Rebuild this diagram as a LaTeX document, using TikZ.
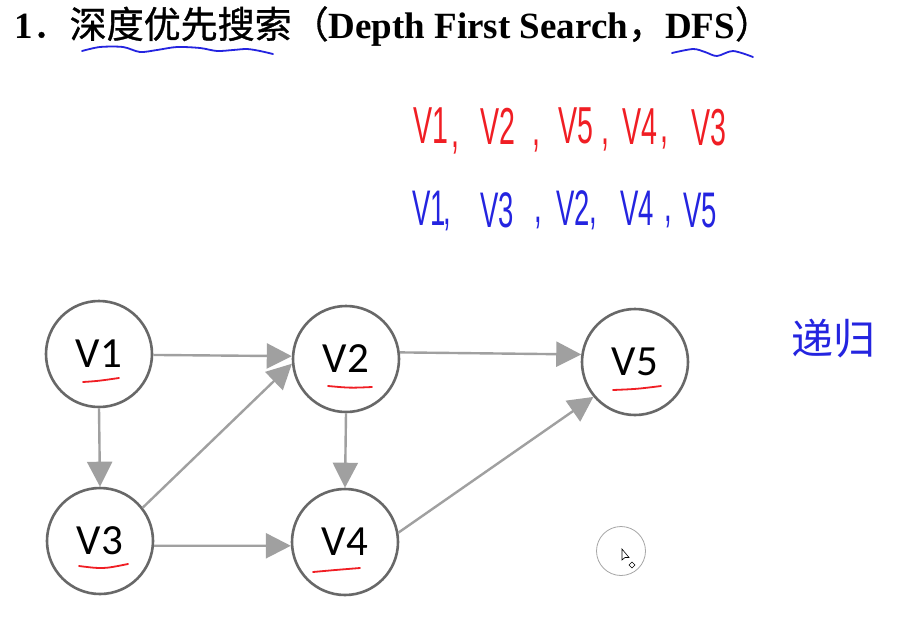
\documentclass[tikz,border=0pt]{standalone}
\usepackage{graphicx}
\usepackage{fontspec}
\setmainfont{Liberation Serif}
\newfontfamily\cjkfont{Noto Sans CJK SC}
\newfontfamily\cjktitle{Noto Sans CJK SC}[FakeBold=0.9]
\newfontfamily\labelfont{Carlito}
\newfontfamily\handfont{Liberation Sans}
\usetikzlibrary{arrows.meta}
\definecolor{edgegray}{HTML}{A0A0A0}
\definecolor{circgray}{HTML}{686868}
\definecolor{inkred}{HTML}{F01E24}
\definecolor{inkblue}{HTML}{2424E0}
\newcommand{\hw}[1]{\scalebox{0.55}[1]{#1}}
\begin{document}
\begin{tikzpicture}[x=1pt,y=-1pt,
  vertex/.style={circle,draw=circgray,line width=2.6pt,minimum size=106pt,inner sep=0pt,
    font=\labelfont\fontsize{43}{43}\selectfont},
  edge/.style={draw=edgegray,line width=2.4pt,-{Triangle[length=25pt,width=25pt]}},
  hred/.style={inkred,inner sep=0pt,font=\handfont\fontsize{52}{52}\selectfont},
  hblue/.style={inkblue,inner sep=0pt,font=\handfont\fontsize{50}{50}\selectfont},
  redmark/.style={draw=inkred,line width=1.8pt,line cap=round},
  wave/.style={draw=inkblue,line width=1.8pt,line cap=round}]
\useasboundingbox[fill=white] (0,0) rectangle (903,633);

% title
\node[anchor=base west,inner sep=0pt] (title) at (14,38)
  {\fontsize{37}{37}\selectfont\bfseries 1\cjktitle\mdseries ．深度优先搜索（\rmfamily\bfseries Depth First Search\cjktitle\mdseries ，\rmfamily\bfseries DFS\cjktitle\mdseries ）};
\draw[wave] plot[smooth] coordinates {(82,51) (100,47) (123,47) (140,52) (157,50) (177,47) (200,48) (217,51) (233,50) (247,49) (260,51) (273,54)};
\draw[wave] plot[smooth] coordinates {(672,53) (693,49) (705,52) (717,56) (733,51) (753,57)};

% red sequence
\node[hred] (r1) at (431,126) {\hw{V1}};
\node[hred] (r2) at (455,148) {\hw{,}};
\node[hred] (r3) at (498,126) {\hw{V2}};
\node[hred] (r4) at (536,146) {\hw{,}};
\node[hred] (r5) at (576,126) {\hw{V5}};
\node[hred] (r6) at (605,145) {\hw{,}};
\node[hred] (r7) at (640,127) {\hw{V4}};
\node[hred] (r8) at (664,143) {\hw{,}};
\node[hred] (r9) at (709,128) {\hw{V3}};

% blue sequence
\node[hblue] (b1) at (429,208) {\hw{V1}};
\node[hblue] (b2) at (447,225) {\hw{,}};
\node[hblue] (b3) at (497,210) {\hw{V3}};
\node[hblue] (b4) at (538,223) {\hw{,}};
\node[hblue] (b5) at (573,208) {\hw{V2}};
\node[hblue] (b6) at (593,224) {\hw{,}};
\node[hblue] (b7) at (637,208) {\hw{V4}};
\node[hblue] (b8) at (668,222) {\hw{,}};
\node[hblue] (b9) at (700,211) {\hw{V5}};

% recursion note
\node[inkblue,inner sep=0pt,font=\cjkfont\fontsize{42}{42}\selectfont] (note) at (833,339) {递归};

% graph
\node[vertex] (V1) at (99,354) {V1};
\node[vertex] (V2) at (346,359) {V2};
\node[vertex] (V3) at (100,541) {V3};
\node[vertex] (V4) at (345,542) {V4};
\node[vertex] (V5) at (635,362) {V5};

\draw[edge] (V1.-1) -- (V2.177);
\draw[edge] (V1.270) -- (V3.90);
\draw[edge] (V3.38) -- (V2.185);
\draw[edge] (V2.270) -- (V4.90);
\draw[edge] (V3.-5) -- (V4.184);
\draw[edge] (V2.7) -- (V5.172);
\draw[edge] (V4.10) -- (V5.220);

% red marks under labels
\draw[redmark] (83,382) .. controls (98,381) .. (119,378);
\draw[redmark] (328,386) .. controls (350,388) .. (372,387);
\draw[redmark] (79,566) .. controls (103,569) .. (128,564);
\draw[redmark] (313,572) .. controls (335,570) .. (360,568);
\draw[redmark] (613,390) .. controls (637,389) .. (661,386);

% pointer ring
\node[circle,draw=gray!70,line width=0.8pt,minimum size=49pt,inner sep=0pt] (ring) at (621,551) {};
\draw[line width=0.6pt,fill=white] (622,549) -- (622,560) -- (625,557.5) -- (629,557.5) -- cycle;
\draw[line width=0.6pt] (632,562) -- (635,565) -- (632,568) -- (629,565) -- cycle;
\end{tikzpicture}
\end{document}
